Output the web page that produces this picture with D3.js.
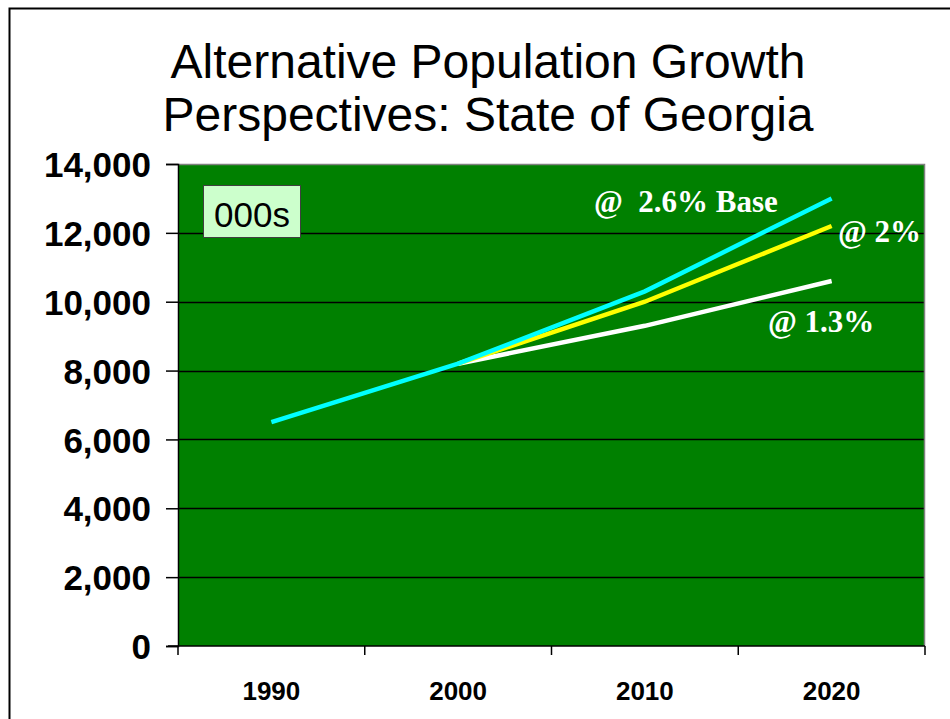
<!DOCTYPE html>
<html>
<head>
<meta charset="utf-8">
<script src="https://cdn.jsdelivr.net/npm/d3@7"></script>
<style>
  body { margin: 0; background: #fff; }
  svg { display: block; }
</style>
</head>
<body>
<script>
// chart data (thousands of people)
var years = ["1990", "2000", "2010", "2020"];
var base26 = [6500, 8200, 10300, 13000];
var rate20 = [null, 8200, 10000, 12200];
var rate13 = [null, 8200, 9300, 10600];
var yTicks = [0, 2000, 4000, 6000, 8000, 10000, 12000, 14000];

var width = 950, height = 719;
var plotLeft = 178, plotRight = 925, plotTop = 164, plotBottom = 646;

var svg = d3.select("body").append("svg")
    .attr("width", width)
    .attr("height", height);

svg.append("rect").attr("width", width).attr("height", height).attr("fill", "#fff");

// outer slide frame
svg.append("path")
    .attr("d", "M9.5," + height + " L9.5,8.5 L" + width + ",8.5")
    .attr("fill", "none").attr("stroke", "#000").attr("stroke-width", 2);

// title
var title = svg.append("text")
    .attr("text-anchor", "middle")
    .attr("font-family", "Liberation Sans, Arial, sans-serif")
    .attr("font-size", 48).attr("fill", "#000");
title.append("tspan").attr("x", 488).attr("y", 78).text("Alternative Population Growth");
title.append("tspan").attr("x", 488).attr("y", 131).text("Perspectives: State of Georgia");

var x = d3.scaleBand().domain(years).range([plotLeft, plotRight]);
var y = d3.scaleLinear().domain([0, 14000]).range([plotBottom, plotTop]);

// plot area
svg.append("rect")
    .attr("x", plotLeft).attr("y", plotTop)
    .attr("width", plotRight - plotLeft).attr("height", plotBottom - plotTop)
    .attr("fill", "#008000");

// gridlines
svg.append("g").selectAll("line")
    .data(yTicks.filter(function(d){ return d > 0 && d < 14000; }))
    .enter().append("line")
    .attr("x1", plotLeft).attr("x2", plotRight)
    .attr("y1", function(d){ return Math.round(y(d)) + 0.5; })
    .attr("y2", function(d){ return Math.round(y(d)) + 0.5; })
    .attr("stroke", "#000").attr("stroke-width", 1.5);

// gray border top/right
svg.append("path")
    .attr("d", "M" + plotLeft + "," + (plotTop + 0.5) + " L" + (plotRight - 0.5) + "," + (plotTop + 0.5) + " L" + (plotRight - 0.5) + "," + plotBottom)
    .attr("fill", "none").attr("stroke", "#808080").attr("stroke-width", 1.5);

// y axis
var yAxis = svg.append("g")
    .attr("transform", "translate(" + plotLeft + ",0)")
    .call(d3.axisLeft(y).tickValues(yTicks).tickSize(12).tickPadding(15)
        .tickFormat(d3.format(",")));
yAxis.select(".domain").attr("stroke", "#000").attr("stroke-width", 1.5);
yAxis.selectAll(".tick line").attr("stroke", "#000").attr("stroke-width", 1.5);
yAxis.selectAll("text")
    .attr("font-family", "Liberation Sans, Arial, sans-serif")
    .attr("font-weight", "bold").attr("font-size", 35).attr("fill", "#000")
    .attr("dy", "0.36em");

// x axis: ticks at band edges
var xAxis = svg.append("g").attr("transform", "translate(0," + plotBottom + ")");
xAxis.append("line").attr("x1", plotLeft - 10).attr("x2", plotRight)
    .attr("stroke", "#000").attr("stroke-width", 1.5);
var edges = years.map(function(d){ return x(d); }).concat([plotRight]);
xAxis.selectAll(".edge").data(edges).enter().append("line")
    .attr("class", "edge")
    .attr("x1", function(d){ return d; }).attr("x2", function(d){ return d; })
    .attr("y1", 0).attr("y2", 9)
    .attr("stroke", "#000").attr("stroke-width", 1.5);
xAxis.selectAll(".lbl").data(years).enter().append("text")
    .attr("class", "lbl")
    .attr("x", function(d){ return x(d) + x.bandwidth() / 2; })
    .attr("y", 54)
    .attr("text-anchor", "middle")
    .attr("font-family", "Liberation Sans, Arial, sans-serif")
    .attr("font-weight", "bold").attr("font-size", 26).attr("fill", "#000")
    .text(function(d){ return d; });

// lines
var line = d3.line()
    .defined(function(d){ return d != null; })
    .x(function(d, i){ return x(years[i]) + x.bandwidth() / 2; })
    .y(function(d){ return y(d); });

var series = [
    {vals: rate13, color: "#ffffff"},
    {vals: rate20, color: "#ffff00"},
    {vals: base26, color: "#00ffff"}
];
svg.append("g").selectAll("path")
    .data(series).enter().append("path")
    .attr("d", function(d){ return line(d.vals); })
    .attr("fill", "none")
    .attr("stroke", function(d){ return d.color; })
    .attr("stroke-width", 4.5);

// line labels
var labels = [
    {t: "@\u00a0\u00a02.6% Base", x: 594, y: 212},
    {t: "@ 2%", x: 838, y: 242},
    {t: "@ 1.3%", x: 768, y: 332}
];
svg.append("g").selectAll("text")
    .data(labels).enter().append("text")
    .attr("x", function(d){ return d.x; })
    .attr("y", function(d){ return d.y; })
    .attr("font-family", "Liberation Serif, Times New Roman, serif")
    .attr("font-weight", "bold").attr("font-size", 31).attr("fill", "#fff")
    .text(function(d){ return d.t; });

// units box
svg.append("rect")
    .attr("x", 203.5).attr("y", 185.5).attr("width", 97).attr("height", 52)
    .attr("fill", "#ccffcc").attr("stroke", "#404040").attr("stroke-width", 1);
svg.append("text")
    .attr("x", 252).attr("y", 227).attr("text-anchor", "middle")
    .attr("font-family", "Liberation Sans, Arial, sans-serif")
    .attr("font-size", 35).attr("fill", "#000")
    .text("000s");
</script>
</body>
</html>
